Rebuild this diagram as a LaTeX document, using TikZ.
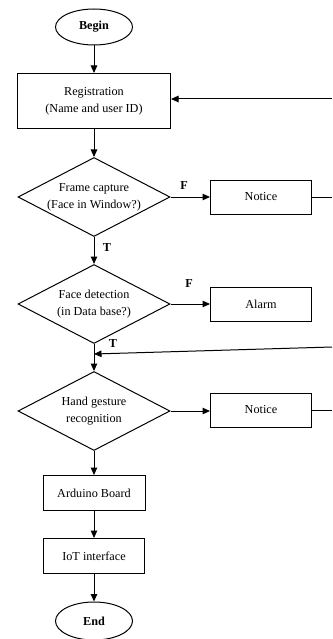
\documentclass[tikz,border=0pt]{standalone}
\usepackage{fontspec}
\setmainfont{Liberation Serif}
\usetikzlibrary{shapes.geometric, arrows.meta}

\begin{document}
\begin{tikzpicture}[x=1pt, y=-1pt, line width=1pt,
    font=\fontsize{12.2}{17}\selectfont,
    every node/.style={inner sep=0pt},
    flow/.style={-{Triangle[length=7.5pt,width=6.5pt]}},
    terminal/.style={draw, ellipse, minimum width=77pt, minimum height=36pt, font=\fontsize{12.2}{17}\selectfont\bfseries},
    process/.style={draw, rectangle, minimum width=101pt, minimum height=34pt, align=center},
    decision/.style={draw, diamond, minimum width=152pt, minimum height=79pt},
    branch/.style={font=\fontsize{12.2}{14}\selectfont\bfseries}]
        \useasboundingbox (0,0) rectangle (332,639);
        % main column
        \node[terminal] (begin) at (94,27) {Begin};
        \node[process, minimum width=153pt, minimum height=55pt] (reg) at (94,101) {Registration\\(Name and user ID)};
        \node[decision] (frame) at (94,197) {};
        \node[align=center] (frametext) at (frame) {Frame capture\\(Face in Window?)};
        \node[decision] (face) at (94,304) {};
        \node[align=center] (facetext) at (face) {Face detection\\(in Data base?)};
        \node[decision] (hand) at (94,411) {};
        \node[align=center] (handtext) at (hand) {Hand gesture\\recognition};
        \node[process, minimum width=102pt, minimum height=35pt] (arduino) at (94,493) {Arduino Board};
        \node[process, minimum height=35pt] (iot) at (94,556) {IoT interface};
        \node[terminal, minimum height=38pt] (end) at (94,621) {End};
        % side boxes
        \node[process] (notice1) at (261,197) {Notice};
        \node[process] (alarm) at (261,304) {Alarm};
        \node[process] (notice2) at (261,410) {Notice};
        % loose ends at the right edge
        \coordinate (r1) at (332,99);
        \coordinate (r2) at (332,347);
        \coordinate (join) at (94,354);
        % arrows
        \draw[flow] (begin) -- (reg);
        \draw[flow] (reg) -- (frame);
        \draw[flow] (frame) -- (face);
        \draw[flow] (face) -- (hand);
        \draw[flow] (hand) -- (arduino);
        \draw[flow] (arduino) -- (iot);
        \draw[flow] (iot) -- (end);
        \draw[flow] (frame) -- (notice1);
        \draw[flow] (face) -- (alarm);
        \draw[flow] (hand.east) -- (notice2.west |- hand.east);
        \draw[flow] (r1) -- (r1 -| reg.east);
        \draw[flow] (r2) -- (join);
        \draw (notice1.east) -- (notice1.east -| r1);
        \draw (notice2.east) -- (notice2.east -| r1);
        % branch labels
        \node[branch] (f1) at (184,186) {F};
        \node[branch] (t1) at (107,248) {T};
        \node[branch] (f2) at (189,284) {F};
        \node[branch] (t2) at (113,344) {T};
      \end{tikzpicture}
\end{document}
